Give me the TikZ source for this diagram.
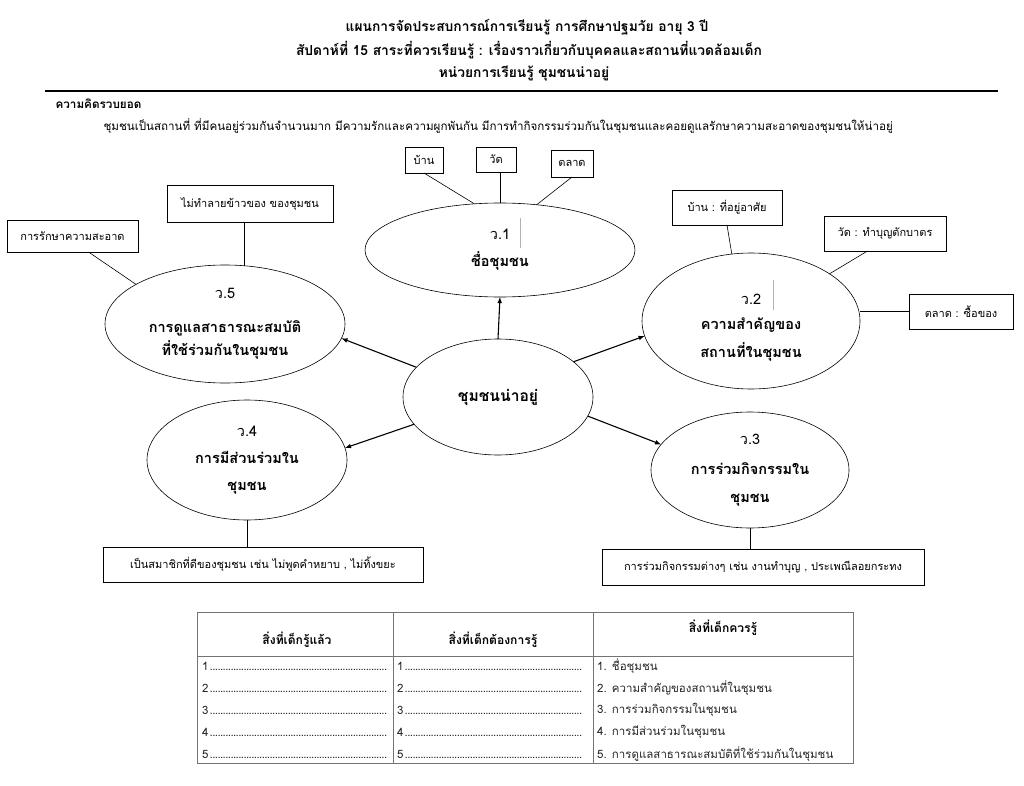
\documentclass[tikz,border=0pt]{standalone}
\usepackage{fontspec}
\setmainfont[Script=Thai]{Loma}
\usetikzlibrary{shapes.geometric}

\tikzset{
  topic/.style={draw, line width=0.6pt, ellipse, inner sep=0pt, outer sep=0pt, align=center, font=\fontsize{14.5}{23}\selectfont},
  note/.style={draw, line width=0.6pt, rectangle, inner sep=0pt, outer sep=0pt, font=\fontsize{11}{13}\selectfont},
  feed/.style={-latex, line width=1.1pt},
  stem/.style={line width=0.6pt},
  cell/.style={inner sep=0pt, font=\fontsize{11.5}{13}\selectfont, text=black!85},
  cursor/.style={draw=black!30, line width=0.4pt}
}
\newcommand{\dotrow}[1]{\hbox to 186pt{#1\leaders\hbox to 2.6pt{\hss.\hss}\hfill}}

\begin{document}
\begin{tikzpicture}[x=1pt, y=-1pt]
	\useasboundingbox (0,0) rectangle (1024,786);
	
	% Kopfzeilen
	\node[font=\fontsize{13.8}{16}\selectfont\bfseries] (head1) at (527,27) {แผนการจัดประสบการณ์การเรียนรู้ การศึกษาปฐมวัย อายุ 3 ปี};
	\node[font=\fontsize{13.8}{16}\selectfont\bfseries] (head2) at (529,50) {สัปดาห์ที่ 15 สาระที่ควรเรียนรู้ : เรื่องราวเกี่ยวกับบุคคลและสถานที่แวดล้อมเด็ก};
	\node[font=\fontsize{13.8}{16}\selectfont\bfseries] (head3) at (524,73) {หน่วยการเรียนรู้ ชุมชนน่าอยู่};
	\draw[line width=2pt] (45,91) -- (998,91);
	
	% Konzept
	\node[anchor=west, font=\fontsize{11.7}{13}\selectfont\bfseries] (idea) at (52,104) {ความคิดรวบยอด};
	\node[anchor=west, font=\fontsize{11.6}{13}\selectfont] (ideatext) at (100,126) {ชุมชนเป็นสถานที่ ที่มีคนอยู่ร่วมกันจำนวนมาก มีความรักและความผูกพันกัน มีการทำกิจกรรมร่วมกันในชุมชนและคอยดูแลรักษาความสะอาดของชุมชนให้น่าอยู่};
	
	% Ellipsen
	\node[topic, minimum width=190pt, minimum height=116pt, font=\fontsize{15.6}{18}\selectfont\bfseries] (hub) at (498,397) {ชุมชนน่าอยู่};
	\node[topic, minimum width=270pt, minimum height=94pt] (w1) at (500,250) {ว.1\\[4pt]\textbf{ชื่อชุมชน}};
	\node[topic, minimum width=218pt, minimum height=136pt] (w2) at (751,321) {\rule{0pt}{24pt}ว.2\\[2pt]\textbf{ความสำคัญของ}\\[5pt]\textbf{สถานที่ในชุมชน}};
	\node[topic, minimum width=198pt, minimum height=116pt] (w3) at (750,470) {ว.3\\[7pt]\textbf{การร่วมกิจกรรมใน}\\[5pt]\textbf{ชุมชน}};
	\node[topic, minimum width=200pt, minimum height=120pt] (w4) at (247,460) {ว.4\\[4pt]\textbf{การมีส่วนร่วมใน}\\[4pt]\textbf{ชุมชน}};
	\node[topic, minimum width=240pt, minimum height=118pt] (w5) at (225,324) {ว.5\\[11pt]\textbf{การดูแลสาธารณะสมบัติ}\\\textbf{ที่ใช้ร่วมกันในชุมชน}};
	\draw[cursor] (520,218) -- (520,248);
	\draw[cursor] (773,280) -- (773,310);
	
	% Pfeile
	\draw[feed] (hub.north) -- (w1.south);
	\draw[feed] (hub.25) -- (w2.188);
	\draw[feed] (hub.-12) -- (w3.164);
	\draw[feed] (hub.198) -- (w4.7);
	\draw[feed] (hub.160) -- (w5.-7);
	
	% Kaesten
	\node[note, minimum width=38pt, minimum height=26pt] (home) at (424,160) {บ้าน};
	\node[note, minimum width=40pt, minimum height=25pt] (temple) at (496,159.5) {วัด};
	\node[note, minimum width=42pt, minimum height=27pt] (market) at (572,163.5) {ตลาด};
	\node[note, minimum width=110pt, minimum height=35pt] (homeuse) at (727,207.5) {บ้าน : ที่อยู่อาศัย};
	\node[note, minimum width=122pt, minimum height=35pt] (templeuse) at (885,233.5) {วัด : ทำบุญตักบาตร};
	\node[note, minimum width=104pt, minimum height=35pt] (marketuse) at (961,311.5) {ตลาด : ซื้อของ};
	\node[note, minimum width=322pt, minimum height=36pt] (events) at (763,567) {การร่วมกิจกรรมต่างๆ เช่น งานทำบุญ , ประเพณีลอยกระทง};
	\node[note, minimum width=320pt, minimum height=35pt] (member) at (263,564.5) {เป็นสมาชิกที่ดีของชุมชน เช่น ไม่พูดคำหยาบ , ไม่ทิ้งขยะ};
	\node[note, minimum width=131pt, minimum height=32pt] (clean) at (72.5,236) {การรักษาความสะอาด};
	\node[note, minimum width=166pt, minimum height=37pt] (nodamage) at (250,203.5) {ไม่ทำลายข้าวของ ของชุมชน};
	
	% Verbindungen
	\draw[stem] (home.south) -- (w1.119);
	\draw[stem] (w1.north) -- (w1.north |- temple.south);
	\draw[stem] (market.south) -- (w1.51);
	\draw[stem] (homeuse.south) -- (w2.106);
	\draw[stem] (templeuse.-135) -- (w2.31);
	\draw[stem] (marketuse.west) -- (marketuse.west -| w2.east);
	\draw[stem] (w3.south) -- (w3.south |- events.north);
	\draw[stem] (w4.south) -- (w4.south |- member.north);
	\draw[stem] (clean.-45) -- (w5.156);
	\draw[stem] (w5.72) -- (w5.72 |- nodamage.south);
	
	% Tabelle
	\draw[black!55, line width=0.8pt] (197,612) rectangle (853,763);
	\draw[black!55, line width=0.8pt] (197,656) -- (853,656);
	\draw[black!55, line width=0.8pt] (393,612) -- (393,763);
	\draw[black!55, line width=0.8pt] (593,612) -- (593,763);
	\node[cell, font=\fontsize{12.1}{14}\selectfont\bfseries, text=black] (known) at (297,640) {สิ่งที่เด็กรู้แล้ว};
	\node[cell, font=\fontsize{12.1}{14}\selectfont\bfseries, text=black] (wanted) at (493,640) {สิ่งที่เด็กต้องการรู้};
	\node[cell, font=\fontsize{12.1}{14}\selectfont\bfseries, text=black] (needed) at (723,628) {สิ่งที่เด็กควรรู้};
	\foreach \n/\item in {1/ชื่อชุมชน, 2/ความสำคัญของสถานที่ในชุมชน, 3/การร่วมกิจกรรมในชุมชน, 4/การมีส่วนร่วมในชุมชน, 5/การดูแลสาธารณะสมบัติที่ใช้ร่วมกันในชุมชน} {
		\node[cell, anchor=west] (known\n) at (202,644+22*\n) {\dotrow{\n}};
		\node[cell, anchor=west] (wanted\n) at (397,644+22*\n) {\dotrow{\n}};
		\node[cell, anchor=west] (needed\n) at (597,644+22*\n) {\n. \item};
	}
\end{tikzpicture}
\end{document}
